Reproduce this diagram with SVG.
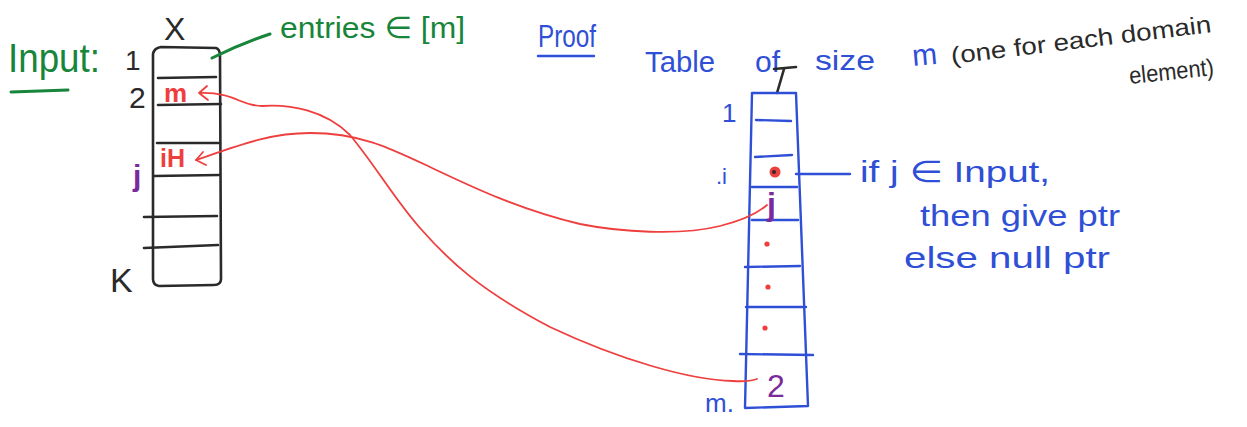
<svg xmlns="http://www.w3.org/2000/svg" width="1247" height="427" viewBox="0 0 1247 427">
<defs>
<style>
.ink{fill:none;stroke-linecap:round;stroke-linejoin:round}
.blk{stroke:#2a2a2a;stroke-width:2.6}
.blu{stroke:#2f4fd6;stroke-width:2.4}
.red{stroke:#ef3e3e;stroke-width:1.8}
.grn{stroke:#17853a;stroke-width:3}
.t{font-family:"Liberation Sans","DejaVu Sans",sans-serif}
.tg{fill:#17853a}
.tb{fill:#2f4fd6}
.tk{fill:#2a2a2a}
.tr{fill:#ef3e3e}
.tp{fill:#7b2a9c}
</style>
</defs>
<rect width="1247" height="427" fill="#ffffff"/>

<g id="input-label">
<text class="t tg" x="8" y="72" font-size="40" textLength="92" lengthAdjust="spacingAndGlyphs">Input:</text>
<path class="ink grn" d="M11,92 L68,90" stroke-width="2.4"/>
</g>

<g id="left-table">
<text class="t tk" x="164" y="40" font-size="32">X</text>
<path class="ink blk" d="M153,54 Q154,48 161,47 L216,48 Q220,49 220,56 L221,279 Q221,285 214,285 L159,286 Q153,285 153,279 Z"/>
<path class="ink blk" d="M158,78 L216,77 M158,105 L221,104 M157,143 L220,143 M154,176 L219,175 M144,217 L217,216 M144,248 L218,245"/>
<text class="t tk" x="125" y="70" font-size="28">1</text>
<text class="t tk" x="129" y="108" font-size="30">2</text>
<text class="t tp" x="133" y="186" font-size="30" font-weight="bold">j</text>
<text class="t tk" x="110" y="292" font-size="34">K</text>
<text class="t tr" x="164" y="102" font-size="26" font-weight="bold">m</text>
<text class="t tr" x="160" y="167" font-size="25" font-weight="bold">iH</text>
</g>

<g id="entries-label">
<path class="ink grn" d="M212,58 Q240,44 270,34"/>
<text class="t tg" x="280" y="38" font-size="30" textLength="185" lengthAdjust="spacingAndGlyphs">entries ∈ [m]</text>
</g>

<g id="proof-label">
<text class="t tb" x="538" y="47" font-size="32" textLength="58" lengthAdjust="spacingAndGlyphs">Proof</text>
<path class="ink blu" d="M538,56 L594,56"/>
</g>

<g id="table-caption">
<text class="t tb" x="645" y="72" font-size="30" textLength="70" lengthAdjust="spacingAndGlyphs">Table</text>
<text class="t tb" x="755" y="72" font-size="30">of</text>
<text class="t tb" x="815" y="70" font-size="28" textLength="60" lengthAdjust="spacingAndGlyphs">size</text>
<text class="t tb" x="913" y="66" font-size="30" transform="rotate(-5 913 66)">m</text>
<text class="t tk" x="952" y="64" font-size="24" transform="rotate(-7 952 64)" textLength="262" lengthAdjust="spacingAndGlyphs">(one   for  each domain</text>
<text class="t tk" x="1130" y="84" font-size="24" transform="rotate(-6 1130 84)" textLength="85" lengthAdjust="spacingAndGlyphs">element)</text>
</g>

<g id="right-table">
<path class="ink blk" d="M774,69 L796,67 M784,69 L777,93"/>
<path class="ink blu" d="M752,93 L796,93 M752,93 L745,408 M796,93 L808,406 M745,408 L808,406"/>
<path class="ink blu" d="M756,120 L791,121 M755,157 L792,155 M752,187 L797,187 M752,220 L798,220 M745,267 L800,266 M746,307 L806,307 M740,354 L813,355"/>
<text class="t tb" x="722" y="122" font-size="26">1</text>
<text class="t tb" x="716" y="184" font-size="22">.i</text>
<text class="t tb" x="705" y="412" font-size="26">m.</text>
<circle cx="775" cy="172" r="5.5" fill="#ef3e3e"/>
<circle cx="774" cy="172" r="2" fill="#2a2a2a"/>
<text class="t tp" x="767" y="215" font-size="32" font-weight="bold">j</text>
<circle cx="767" cy="244" r="2.6" fill="#ef3e3e"/>
<circle cx="768" cy="287" r="2.6" fill="#ef3e3e"/>
<circle cx="765" cy="328" r="2.6" fill="#ef3e3e"/>
<text class="t tp" x="767" y="397" font-size="32">2</text>
</g>

<g id="condition-note">
<path class="ink blu" d="M796,174 L850,174"/>
<text class="t tb" x="860" y="182" font-size="30" textLength="190" lengthAdjust="spacingAndGlyphs">if j ∈ Input,</text>
<text class="t tb" x="920" y="226" font-size="30" textLength="200" lengthAdjust="spacingAndGlyphs">then give ptr</text>
<text class="t tb" x="904" y="268" font-size="30" textLength="206" lengthAdjust="spacingAndGlyphs">else null ptr</text>
</g>

<g id="connectors">
<path class="ink red" d="M200,93 C235,92 240,106 262,106 C290,104 325,110 350,135 C375,165 395,200 420,228 C450,262 480,290 550,327 C620,360 690,380 733,381 Q748,382 757,379"/>
<path class="ink red" stroke-width="2.4" d="M207,86 L199,93 L208,100"/>
<path class="ink red" d="M196,160 C240,145 270,133 310,133 C360,133 390,148 430,167 C470,186 520,210 580,224 C620,232 680,236 720,226 Q752,218 767,205"/>
<path class="ink red" stroke-width="2.4" d="M203,152 L196,160 L206,165"/>
</g>
</svg>
